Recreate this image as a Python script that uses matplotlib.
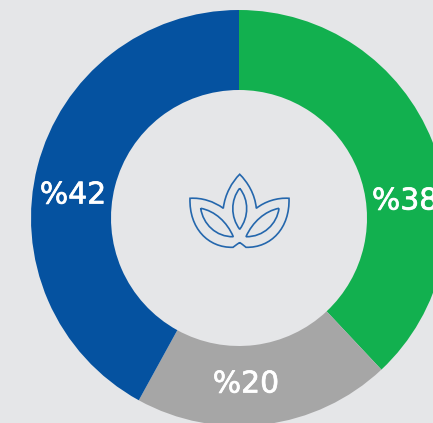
import matplotlib
matplotlib.use("Agg")
import matplotlib.pyplot as plt
import matplotlib.patheffects as pe
from matplotlib.path import Path
from matplotlib.patches import PathPatch

# share of each slice, clockwise from the top
labels = ["%38", "%20", "%42"]
values = [38, 20, 42]
colors = ["#12b04f", "#a6a6a6", "#0552a0"]

W, H = 433, 423
bg = "#e5e6e8"
icon_color = "#2467ad"


# y is given in picture pixels (from the top)
def py(y):
    return H - y


fig = plt.figure(figsize=(W / 100, H / 100), dpi=100, facecolor=bg)
ax = fig.add_axes([0, 0, 1, 1])
ax.set_facecolor(bg)

ax.pie(values, colors=colors, startangle=90, counterclock=False,
       center=(239, py(218)), radius=208,
       wedgeprops=dict(width=80, edgecolor="none", linewidth=0))

ax.set_xlim(0, W)
ax.set_ylim(0, H)
ax.set_aspect("equal")
ax.axis("off")

# value labels (%38 runs off the right edge in the original too)
label_x = [405, 246, 73]
label_y = [201, 384, 195]
for txt, x, y in zip(labels, label_x, label_y):
    t = ax.text(x, py(y), txt, color="white", fontsize=21.5, ha="center", va="center",
                family="DejaVu Sans")
    t.set_path_effects([pe.withStroke(linewidth=0.5, foreground="white")])


# lotus icon in the middle
def curve(p0, c0, c1, p1):
    return [(Path.MOVETO, p0), (Path.CURVE4, c0), (Path.CURVE4, c1), (Path.CURVE4, p1)]


def to_path(*parts):
    codes, verts = [], []
    for i, part in enumerate(parts):
        for j, (code, (x, y)) in enumerate(part):
            # keep the pen down when this piece starts where the last one ended
            if j == 0 and i > 0 and verts[-1] == (x, py(y)):
                continue
            codes.append(code)
            verts.append((x, py(y)))
    return Path(verts, codes)


outline = to_path(
    curve((239.7, 242.5), (238, 243.5), (235.5, 245.5), (233, 247.3)),
    curve((233, 247.3), (208, 248), (189, 228), (190, 198.3)),
    curve((190, 198.3), (202, 197.5), (214, 201.5), (223.3, 208.3)),
    curve((223.3, 208.3), (225, 194), (232, 182), (239.7, 174.3)),
    curve((239.7, 174.3), (247.5, 182), (255, 194), (256.3, 208.3)),
    curve((256.3, 208.3), (265, 201.5), (277, 197.5), (289, 198.3)),
    curve((289, 198.3), (290, 228), (271, 248), (246, 247.3)),
    curve((246, 247.3), (243.5, 245.5), (241.5, 243.5), (239.7, 242.5)),
)
center_leaf = to_path(
    curve((239.7, 188.3), (230.5, 200), (230.5, 217), (239.7, 229.3)),
    curve((239.7, 229.3), (249, 217), (249, 200), (239.7, 188.3)),
)
left_leaf = to_path(
    curve((200.7, 208.3), (203, 224), (216, 237), (233.3, 236.7)),
    curve((233.3, 236.7), (227, 222), (215, 211), (200.7, 208.3)),
)
right_leaf = to_path(
    curve((279, 208.3), (265, 211), (252.5, 222), (246, 236.7)),
    curve((246, 236.7), (263.5, 237), (277, 224), (279, 208.3)),
)
for p in [outline, center_leaf, left_leaf, right_leaf]:
    ax.add_patch(PathPatch(p, facecolor="none", edgecolor=icon_color, linewidth=1.2))

fig.savefig("out.png", dpi=100, facecolor=bg)
